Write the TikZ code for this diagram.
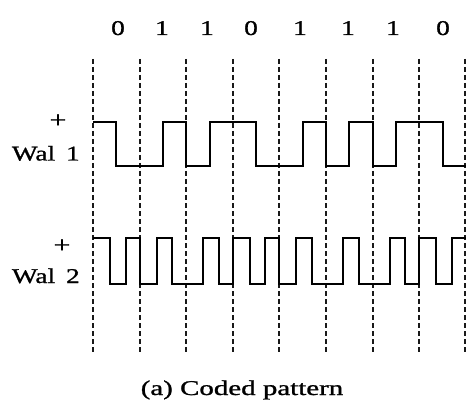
\documentclass[tikz,border=0pt]{standalone}
\usepackage{fontspec}
\setmainfont{Liberation Serif}
\begin{document}
\begin{tikzpicture}[x=1pt,y=-1pt,
  txt/.style={inner sep=0pt, font=\fontsize{21}{24}\selectfont\addfontfeatures{FakeBold=1}, xscale=1.3},
  bitlbl/.style={txt, anchor=base},
  guide/.style={black!90, line width=1.5pt, dash pattern=on 5pt off 3pt},
  wave/.style={black, line width=2pt, line join=miter, line cap=butt}]
\useasboundingbox (0,0) rectangle (466,401);
\fill[white] (0,0) rectangle (466,401);
% bit labels
\node[bitlbl] (b1) at (118,35) {0};
\node[bitlbl] (b2) at (162,35) {1};
\node[bitlbl] (b3) at (207,35) {1};
\node[bitlbl] (b4) at (251,35) {0};
\node[bitlbl] (b5) at (300,35) {1};
\node[bitlbl] (b6) at (348,35) {1};
\node[bitlbl] (b7) at (393,35) {1};
\node[bitlbl] (b8) at (443,35) {0};
% dashed bit boundaries
\foreach \xx in {93,140,186,233,279,326,373,419,465} {
  \draw[guide] (\xx,59) -- (\xx,354);
}
% row labels
\node[txt, anchor=base east] (w1) at (80,160.5) {Wal\hspace{0.4em}1};
\node[txt, anchor=center, font=\fontsize{23}{26}\selectfont\addfontfeatures{FakeBold=1}] (p1) at (58,121) {+};
\node[txt, anchor=base east] (w2) at (80,283) {Wal\hspace{0.4em}2};
\node[txt, anchor=center, font=\fontsize{23}{26}\selectfont\addfontfeatures{FakeBold=1}] (p2) at (62,246) {+};
% Wal 1 waveform
\draw[wave] (93,122) -- (116.3,122) -- (116.3,166) -- (162.9,166) -- (162.9,122)
  -- (186.2,122) -- (186.2,166) -- (209.5,166) -- (209.5,122) -- (256.1,122)
  -- (256.1,166) -- (302.7,166) -- (302.7,122) -- (326,122) -- (326,166)
  -- (349.3,166) -- (349.3,122) -- (372.6,122) -- (372.6,166) -- (395.9,166)
  -- (395.9,122) -- (442.5,122) -- (442.5,166) -- (467,166);
% Wal 2 waveform
\draw[wave] (93,238) -- (110,238) -- (110,284) -- (125.5,284) -- (125.5,238)
  -- (139.6,238) -- (139.6,284) -- (156.6,284) -- (156.6,238) -- (172.1,238)
  -- (172.1,284) -- (203.2,284) -- (203.2,238) -- (218.7,238) -- (218.7,284)
  -- (232.8,284) -- (232.8,238) -- (249.8,238) -- (249.8,284) -- (265.3,284)
  -- (265.3,238) -- (279.4,238) -- (279.4,284) -- (296.4,284) -- (296.4,238)
  -- (311.9,238) -- (311.9,284) -- (343,284) -- (343,238) -- (358.5,238)
  -- (358.5,284) -- (389.6,284) -- (389.6,238) -- (405.1,238) -- (405.1,284)
  -- (419.2,284) -- (419.2,238) -- (436.2,238) -- (436.2,284) -- (451.7,284)
  -- (451.7,238) -- (467,238);
% caption
\node[txt, anchor=base, xscale=1.06] (cap) at (242,395) {(a) Coded pattern};
\end{tikzpicture}
\end{document}
